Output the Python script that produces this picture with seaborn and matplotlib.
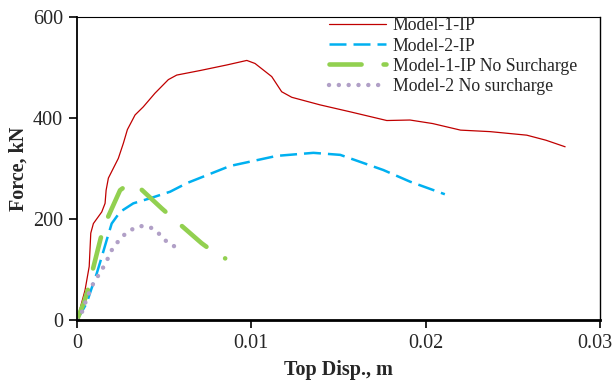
import matplotlib
matplotlib.use("Agg")
import matplotlib.pyplot as plt
import matplotlib.transforms as mtransforms
import seaborn as sns

# ---- data ----
m1_disp = [0, .00046, .0007, .00079, .00094, .00142, .00161, .00167, .0018, .00218, .00237,
           .00266, .00289, .00333, .0038, .00447, .00524, .00572, .00706, .00859, .00974,
           .01021, .01117, .01174, .01232, .01394, .0157, .01777, .0191, .0204, .0220,
           .0237, .0258, .0269, .0280]
m1_force = [0, 59, 106, 172, 191, 214, 231, 257, 281, 307, 320,
            350, 377, 406, 422, 449, 476, 485, 494, 505, 514,
            508, 482, 452, 441, 426, 412, 395, 396, 389, 376,
            373, 366, 356, 343]

m2_disp = [0, .00055, .00084, .00113, .00142, .0017, .00199, .00247, .00323, .00419, .00534,
           .0063, .00878, .01146, .01356, .0151, .01757, .0191, .0211]
m2_force = [0, 33, 63, 92, 125, 158, 191, 214, 231, 241, 254,
            271, 305, 325, 331, 327, 297, 274, 249]

m1ns_disp = [0, .0004, .00065, .0009, .00136, .0017, .00247, .0029, .00349, .00486, .00562, .00715, .0079, .0085]
m1ns_force = [0, 35, 63, 99, 162, 198, 257, 268, 265, 221, 198, 152, 133, 122]

m2ns_disp = [0, .00018, .00037, .00056, .00098, .00128, .00155, .0018, .00203, .00237, .00275,
             .00319, .00367, .00423, .00467, .00505, .00549, .006]
m2ns_force = [0, 7, 23, 43, 76, 91, 107, 124, 141, 156, 170,
              180, 186, 183, 172, 158, 147, 142]

labels = ["Model-1-IP", "Model-2-IP", "Model-1-IP No Surcharge", "Model-2 No surcharge"]
x_ticks = [0, 0.01, 0.02, 0.03]
x_tick_labels = ["0", "0.01", "0.02", "0.03"]
y_ticks = [0, 200, 400, 600]

sns.set_theme(style="white")
plt.rcParams["font.family"] = ["Liberation Serif", "DejaVu Serif"]

fig = plt.figure(figsize=(6.15, 3.83), dpi=100)
ax = fig.add_axes([77 / 615, 1 - 320 / 383, 523 / 615, 303 / 383])

sns.lineplot(x=m1_disp, y=m1_force, ax=ax, color="#C00000", lw=0.9,
             estimator=None, sort=False, label=labels[0])
sns.lineplot(x=m2_disp, y=m2_force, ax=ax, color="#00B0F0", lw=1.8,
             linestyle=(0, (6.8, 2.8)), estimator=None, sort=False, label=labels[1])
sns.lineplot(x=m1ns_disp, y=m1ns_force, ax=ax, color="#92D050", lw=3.3,
             linestyle=(0, (7.0, 4.8)), dash_capstyle="round",
             estimator=None, sort=False, label=labels[2])
sns.lineplot(x=m2ns_disp, y=m2ns_force, ax=ax, color="#B1A0C7", lw=3.2,
             linestyle=(0, (0.01, 2.2)), dash_capstyle="round",
             estimator=None, sort=False, label=labels[3])

ax.set_xlim(0, 0.03)
ax.set_ylim(0, 600)
ax.set_xticks(x_ticks)
ax.set_xticklabels(x_tick_labels)
ax.set_yticks(y_ticks)
ax.tick_params(axis="both", which="major", labelsize=14.5, direction="out",
               length=6, width=1.2, color="black", pad=4,
               bottom=True, left=True)

# keep the last x tick label inside the figure
last = ax.get_xticklabels()[-1]
last.set_transform(last.get_transform() +
                   mtransforms.ScaledTranslation(-5 / 100, 0, fig.dpi_scale_trans))

for side in ["top", "right", "left", "bottom"]:
    ax.spines[side].set_visible(True)
    ax.spines[side].set_color("black")
ax.spines["bottom"].set_linewidth(2.0)
ax.spines["left"].set_linewidth(1.3)
ax.spines["top"].set_linewidth(0.8)
ax.spines["right"].set_linewidth(1.0)

ax.set_xlabel("Top Disp., m", fontsize=14.5, fontweight="bold", labelpad=5)
ax.set_ylabel("Force, kN", fontsize=14.5, fontweight="bold", labelpad=3)

handles, labs = ax.get_legend_handles_labels()
leg = ax.legend(handles, labs, loc="upper left", bbox_to_anchor=(0.482, 0.999),
                frameon=False, fontsize=12.8, handlelength=3.2, handletextpad=0.38,
                labelspacing=0.18, borderpad=0, borderaxespad=0)

fig.savefig("out.png", dpi=100)
